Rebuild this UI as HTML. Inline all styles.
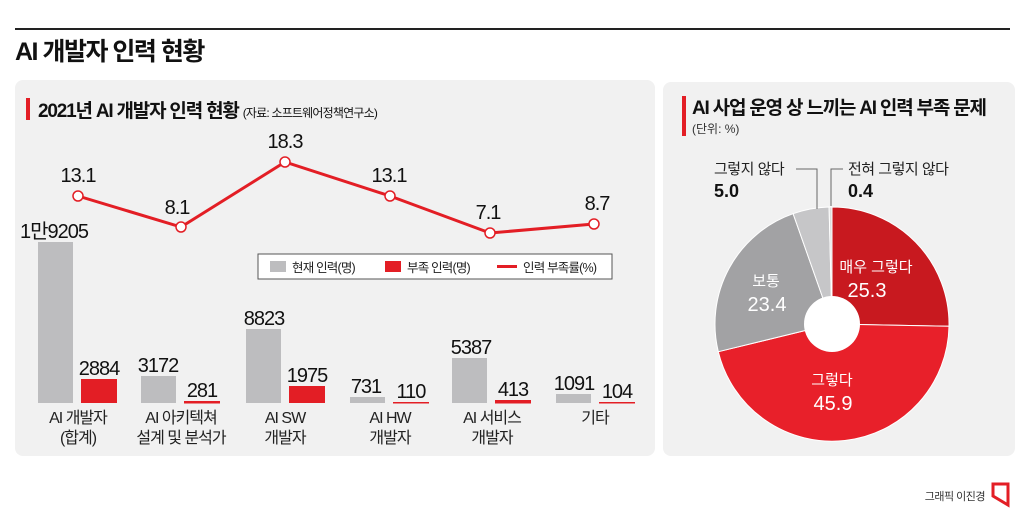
<!DOCTYPE html>
<html><head><meta charset="utf-8"><style>
html,body{margin:0;padding:0;background:#fff;}
svg{display:block;}
text{font-family:"Liberation Sans","Noto Sans CJK KR",sans-serif;}
.n{font-family:"Liberation Sans Narrow","Liberation Sans","Noto Sans CJK KR",sans-serif;}
</style></head><body>
<svg width="1024" height="514" viewBox="0 0 1024 514" xmlns="http://www.w3.org/2000/svg">
<rect width="1024" height="514" fill="#fff"/>
<line x1="15" y1="29" x2="1010" y2="29" stroke="#222" stroke-width="2"/>
<text x="15" y="60" font-size="25" font-weight="bold" fill="#111" letter-spacing="-1.5">AI 개발자 인력 현황</text>

<rect x="15" y="80" width="640" height="376" rx="8" fill="#f1f1f1"/>
<rect x="663" y="82" width="352" height="374" rx="8" fill="#f1f1f1"/>

<!-- left title -->
<rect x="26" y="98" width="4" height="22" fill="#e31e25"/>
<text x="38" y="117" font-size="19" font-weight="bold" fill="#111" letter-spacing="-1.2">2021년 AI 개발자 인력 현황 <tspan font-size="12" font-weight="normal" letter-spacing="-0.8">(자료: 소프트웨어정책연구소)</tspan></text>

<!-- bars -->
<g fill="#bdbdbf">
<rect x="38" y="242" width="35" height="161"/>
<rect x="141" y="376" width="35" height="27"/>
<rect x="246" y="329" width="35" height="74"/>
<rect x="350" y="397" width="35" height="6"/>
<rect x="452" y="358" width="35" height="45"/>
<rect x="556" y="394" width="35" height="9"/>
</g>
<g fill="#e31e25">
<rect x="81" y="379" width="36" height="24"/>
<rect x="184" y="401" width="36" height="2.5"/>
<rect x="289" y="386" width="36" height="17"/>
<rect x="393" y="402" width="36" height="1.5"/>
<rect x="495" y="400" width="36" height="3.5"/>
<rect x="599" y="402" width="36" height="1.5"/>
</g>
<g class="n" font-size="20" fill="#111" text-anchor="middle" letter-spacing="-1">
<text class="n" x="54" y="238">1만9205</text>
<text class="n" x="99" y="375">2884</text>
<text class="n" x="158" y="372">3172</text>
<text class="n" x="202" y="397">281</text>
<text class="n" x="264" y="325">8823</text>
<text class="n" x="307" y="382">1975</text>
<text class="n" x="366" y="393">731</text>
<text class="n" x="411" y="398">110</text>
<text class="n" x="471" y="354">5387</text>
<text class="n" x="513" y="396">413</text>
<text class="n" x="574" y="390">1091</text>
<text class="n" x="617" y="398">104</text>
</g>
<g font-size="16" fill="#222" text-anchor="middle" letter-spacing="-1">
<text x="78" y="423">AI 개발자</text><text x="78" y="443">(합계)</text>
<text x="181" y="423">AI 아키텍쳐</text><text x="181" y="443">설계 및 분석가</text>
<text x="285" y="423">AI SW</text><text x="285" y="443">개발자</text>
<text x="390" y="423">AI HW</text><text x="390" y="443">개발자</text>
<text x="492" y="423">AI 서비스</text><text x="492" y="443">개발자</text>
<text x="595" y="423">기타</text>
</g>

<!-- legend -->
<rect x="258" y="254" width="354" height="25" fill="#fff" stroke="#555" stroke-width="1"/>
<rect x="270" y="261" width="16" height="11" fill="#bdbdbf"/>
<text x="292" y="272" font-size="12.5" fill="#222" letter-spacing="-0.8">현재 인력(명)</text>
<rect x="385" y="261" width="16" height="11" fill="#e31e25"/>
<text x="407" y="272" font-size="12.5" fill="#222" letter-spacing="-0.8">부족 인력(명)</text>
<line x1="497" y1="266.5" x2="517" y2="266.5" stroke="#e31e25" stroke-width="3"/>
<text x="523" y="272" font-size="12.5" fill="#222" letter-spacing="-0.8">인력 부족률(%)</text>

<!-- line -->
<polyline points="78,196 181,227 285,162 390,196 490,233 594,224" fill="none" stroke="#e31e25" stroke-width="3"/>
<g fill="#fff" stroke="#e31e25" stroke-width="1.5">
<circle cx="78" cy="196" r="5"/><circle cx="181" cy="227" r="5"/><circle cx="285" cy="162" r="5"/>
<circle cx="390" cy="196" r="5"/><circle cx="490" cy="233" r="5"/><circle cx="594" cy="224" r="5"/>
</g>
<g font-size="20" fill="#111" text-anchor="middle" letter-spacing="-1">
<text class="n" x="78" y="182">13.1</text>
<text class="n" x="177" y="214">8.1</text>
<text class="n" x="285" y="148">18.3</text>
<text class="n" x="389" y="182">13.1</text>
<text class="n" x="488" y="219">7.1</text>
<text class="n" x="597" y="210">8.7</text>
</g>

<!-- right -->
<rect x="682" y="96" width="4" height="40" fill="#e31e25"/>
<text x="692" y="114" font-size="19" font-weight="bold" fill="#111" letter-spacing="-1.2">AI 사업 운영 상 느끼는 AI 인력 부족 문제</text>
<text x="692" y="133" font-size="12" fill="#333">(단위: %)</text>

<g stroke="#fff" stroke-width="1">
<path d="M832,324 L832,207 A117,117 0 0 1 949,326.2 Z" fill="#c8191f"/>
<path d="M832,324 L949,326.2 A117,117 0 0 1 718.3,351.7 Z" fill="#e8202a"/>
<path d="M832,324 L718.3,351.7 A117,117 0 0 1 793.1,213.7 Z" fill="#a2a2a4"/>
<path d="M832,324 L793.1,213.7 A117,117 0 0 1 829.1,207 Z" fill="#c6c6c8"/>
<path d="M832,324 L829.1,207 A117,117 0 0 1 832,207 Z" fill="#ddd"/>
</g>
<circle cx="832" cy="324" r="28" fill="#fff"/>
<g stroke="#666" stroke-width="1" fill="none">
<polyline points="796,169 817,169 817,209"/>
<polyline points="843,169 831,169 831,206"/>
</g>
<g font-size="15" fill="#222" letter-spacing="-0.5">
<text x="714" y="174">그렇지 않다</text>
<text x="848" y="174">전혀 그렇지 않다</text>
</g>
<g font-size="18" font-weight="bold" fill="#111">
<text x="714" y="197">5.0</text>
<text x="848" y="197">0.4</text>
</g>
<g fill="#fff" text-anchor="middle">
<text x="876" y="272" font-size="15">매우 그렇다</text>
<text x="867" y="297" font-size="20">25.3</text>
<text x="766" y="286" font-size="15">보통</text>
<text x="767" y="311" font-size="20">23.4</text>
<text x="832" y="385" font-size="15">그렇다</text>
<text x="833" y="410" font-size="20">45.9</text>
</g>

<!-- footer -->
<text x="985" y="500" font-size="11" fill="#333" text-anchor="end" letter-spacing="-0.5">그래픽 이진경</text>
<path d="M993,484 L1008,484 L1008,505 L993,496 Z" fill="none" stroke="#e31e25" stroke-width="3"/>
</svg>
</body></html>
